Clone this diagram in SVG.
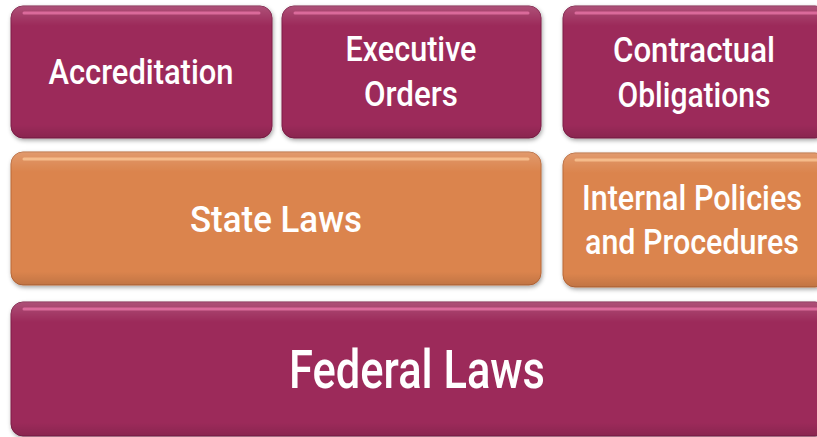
<svg xmlns="http://www.w3.org/2000/svg" width="817" height="437" viewBox="0 0 817 437">
<style>
.m{fill:#9C2A5A;stroke:#7E1F48;stroke-width:1}
.o{fill:#DB844D;stroke:#B9693A;stroke-width:1}
.hm{fill:none;stroke:#E06FA0;stroke-width:3;stroke-linecap:round;opacity:0.9}
.ho{fill:none;stroke:#F7C08F;stroke-width:3;stroke-linecap:round;opacity:0.9}
.t{font-family:Roboto,"Liberation Sans",sans-serif;font-weight:500;fill:#FFFFFF;text-anchor:middle}
</style>
<defs>
<filter id="sh" x="-5%" y="-5%" width="110%" height="115%">
<feDropShadow dx="1" dy="2" stdDeviation="2" flood-color="#000" flood-opacity="0.35"/>
</filter>
<linearGradient id="gl" x1="0" y1="0" x2="0" y2="1">
<stop offset="0" stop-color="#fff" stop-opacity="0.18"/>
<stop offset="0.15" stop-color="#fff" stop-opacity="0"/>
<stop offset="0.9" stop-color="#000" stop-opacity="0"/>
<stop offset="1" stop-color="#000" stop-opacity="0.12"/>
</linearGradient>
</defs>
<rect width="817" height="437" fill="#FFFFFF"/>
<g id="accreditation">
<rect class="m" x="11" y="6" width="261" height="132" rx="12" filter="url(#sh)"/>
<rect x="11" y="6" width="261" height="132" rx="12" fill="url(#gl)"/>
<path class="hm" d="M24 13 H259"/>
<text class="t" x="141" y="84" font-size="35" textLength="185" lengthAdjust="spacingAndGlyphs">Accreditation</text>
</g>
<g id="executive-orders">
<rect class="m" x="282" y="6" width="259" height="132" rx="12" filter="url(#sh)"/>
<rect x="282" y="6" width="259" height="132" rx="12" fill="url(#gl)"/>
<path class="hm" d="M295 13 H528"/>
<text class="t" x="411" y="61" font-size="35" textLength="131" lengthAdjust="spacingAndGlyphs">Executive</text>
<text class="t" x="411" y="106" font-size="35" textLength="94" lengthAdjust="spacingAndGlyphs">Orders</text>
</g>
<g id="contractual-obligations">
<rect class="m" x="563" y="6" width="264" height="132" rx="12" filter="url(#sh)"/>
<rect x="563" y="6" width="264" height="132" rx="12" fill="url(#gl)"/>
<path class="hm" d="M576 13 H817"/>
<text class="t" x="694" y="62" font-size="35" textLength="162" lengthAdjust="spacingAndGlyphs">Contractual</text>
<text class="t" x="694" y="107" font-size="35" textLength="153" lengthAdjust="spacingAndGlyphs">Obligations</text>
</g>
<g id="state-laws">
<rect class="o" x="11" y="152" width="530" height="133" rx="12" filter="url(#sh)"/>
<rect x="11" y="152" width="530" height="133" rx="12" fill="url(#gl)"/>
<path class="ho" d="M24 159 H528"/>
<text class="t" x="276" y="232" font-size="37" textLength="172" lengthAdjust="spacingAndGlyphs">State Laws</text>
</g>
<g id="internal-policies">
<rect class="o" x="563" y="153" width="264" height="134" rx="12" filter="url(#sh)"/>
<rect x="563" y="153" width="264" height="134" rx="12" fill="url(#gl)"/>
<path class="ho" d="M576 160 H817"/>
<text class="t" x="692" y="210" font-size="35" textLength="220" lengthAdjust="spacingAndGlyphs">Internal Policies</text>
<text class="t" x="692" y="254" font-size="35" textLength="214" lengthAdjust="spacingAndGlyphs">and Procedures</text>
</g>
<g id="federal-laws">
<rect class="m" x="11" y="302" width="816" height="134" rx="12" filter="url(#sh)"/>
<rect x="11" y="302" width="816" height="134" rx="12" fill="url(#gl)"/>
<path class="hm" d="M24 309 H817"/>
<text class="t" x="417" y="388" font-size="53" textLength="256" lengthAdjust="spacingAndGlyphs">Federal Laws</text>
</g>
<g id="connectors"></g>
</svg>
